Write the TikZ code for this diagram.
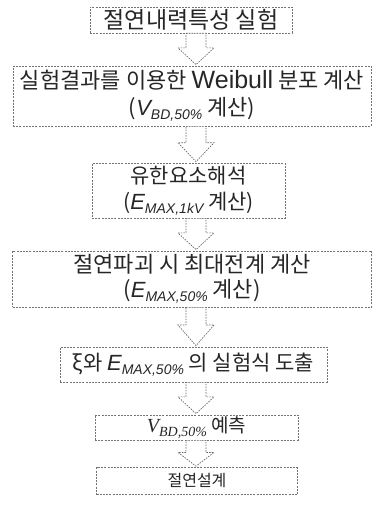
\documentclass[tikz,border=0pt]{standalone}
\usepackage{fontspec}
\setmainfont{Liberation Sans}
\newfontfamily\kr{Noto Sans CJK KR}
\newfontfamily\tms{Liberation Serif}
\usetikzlibrary{calc}
\newcommand\sbsc[1]{\raisebox{-0.35ex}{\rmfamily\fontsize{14}{14}\selectfont\itshape #1}}
\newcommand\sbtm[1]{\raisebox{-0.35ex}{\tms\fontsize{14}{14}\selectfont\itshape #1}}
\newcommand\lat[2]{{\rmfamily\fontsize{#1}{#1}\selectfont #2}}
\tikzset{
  stepbox/.style={draw=black!55, line width=0.7pt, dash pattern=on 2pt off 1.2pt,
    rectangle, inner sep=0pt, align=center, text=black!85},
  blockarr/.style={draw=black!60, line width=0.7pt, dash pattern=on 1.5pt off 1.2pt, fill=white},
}
\newcommand\blockarrow[2]{%
  \draw[blockarr] let \p1=(#1.south -| ax), \p2=(#2.north -| ax), \n1={\y1-\y2} in
    (\x1-10pt,\y1) -- (\x1+10pt,\y1) -- (\x1+10pt,\y1-0.45*\n1) -- (\x1+18pt,\y1-0.45*\n1)
    -- (\x1,\y2+1pt) -- (\x1-18pt,\y1-0.45*\n1) -- (\x1-10pt,\y1-0.45*\n1) -- cycle;}
\begin{document}
\begin{tikzpicture}[x=1pt,y=-1pt]
\useasboundingbox (0,0) rectangle (372,508);
\coordinate (ax) at (196,0);
\node[stepbox, minimum width=202pt, minimum height=26pt,
  font=\kr\fontsize{23}{26}\selectfont] (b1) at (191,20)
  {절연내력특성 실험};
\node[stepbox, minimum width=358pt, minimum height=60pt,
  font=\kr\fontsize{22}{27}\selectfont] (b2) at (192,96)
  {실험결과를 이용한 \lat{25}{Weibull} 분포 계산\\
   (\lat{22}{\itshape V}\sbsc{BD,50\%} 계산)};
\node[stepbox, minimum width=193pt, minimum height=55pt,
  font=\kr\fontsize{21}{26}\selectfont] (b3) at (188.5,190.5)
  {유한요소해석\\
   (\lat{22}{\itshape E}\sbsc{MAX,1kV} 계산)};
\node[stepbox, minimum width=359pt, minimum height=56pt,
  font=\kr\fontsize{22}{25}\selectfont] (b4) at (192,279)
  {절연파괴 시 최대전계 계산\\
   (\lat{22}{\itshape E}\sbsc{MAX,50\%} 계산)};
\node[stepbox, minimum width=267pt, minimum height=35pt,
  font=\kr\fontsize{21}{25}\selectfont] (b5) at (193.5,364.5)
  {ξ와 \lat{22}{\itshape E}\sbsc{MAX,50\%} 의 실험식 도출};
\node[stepbox, minimum width=203pt, minimum height=25pt,
  font=\kr\fontsize{19}{22}\selectfont] (b6) at (196.5,427.5)
  {{\tms\fontsize{20}{22}\selectfont\itshape V}\sbtm{BD,50\%} 예측};
\node[stepbox, minimum width=201pt, minimum height=27pt,
  font=\kr\fontsize{16}{20}\selectfont] (b7) at (197,481)
  {절연설계};
\blockarrow{b1}{b2}
\blockarrow{b2}{b3}
\blockarrow{b3}{b4}
\blockarrow{b4}{b5}
\blockarrow{b5}{b6}
\blockarrow{b6}{b7}
\end{tikzpicture}
\end{document}
